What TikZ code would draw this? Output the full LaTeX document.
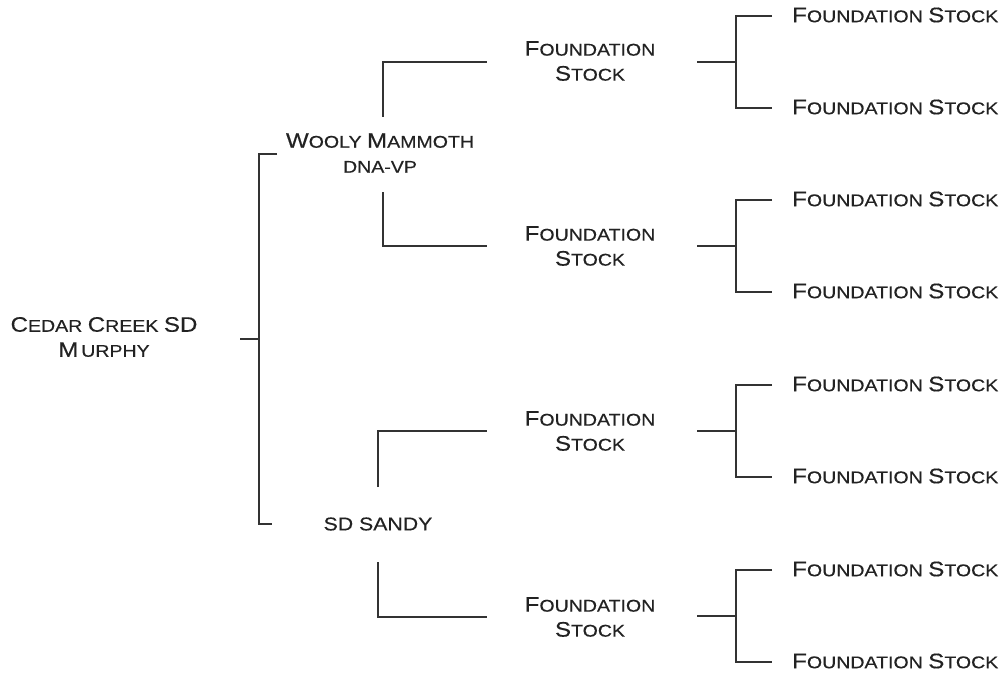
\documentclass[tikz,border=0pt]{standalone}
\usepackage{fontspec}
\setmainfont{Liberation Sans}[FakeStretch=1.15,FakeBold=0.4]
\definecolor{ink}{HTML}{222222}
\definecolor{wire}{HTML}{333333}
\newcommand\Bg[1]{{\fontsize{21}{25}\selectfont #1}}
\tikzset{
  lbl/.style={inner sep=0pt, align=center, text=ink, font=\fontsize{17}{25}\selectfont},
  leaf/.style={lbl, anchor=west},
  wirestyle/.style={draw=wire, line width=1.4pt}
}
\begin{document}
\begin{tikzpicture}[x=1pt,y=-1pt]
\useasboundingbox (0,0) rectangle (1003,674);
% root
\node[lbl] (root) at (104,337) {\Bg{C}EDAR \Bg{C}REEK \Bg{SD}\\\Bg{M}\,URPHY};
\coordinate (rs) at (240,339);
\coordinate (rj) at (259,339);
\coordinate (rt) at (259,154);
\coordinate (rb) at (259,524);
\coordinate (rte) at (277,154);
\coordinate (rbe) at (272,524);
\draw[wirestyle] (rs) -- (rj);
\draw[wirestyle] (rte) -- (rt) -- (rb) -- (rbe);
% level 1
\node[lbl] (wm) at (380,153) {\Bg{W}OOLY \Bg{M}AMMOTH\\DNA-VP};
\node[lbl, font=\fontsize{18.5}{25}\selectfont] (sd) at (378,524) {SD SANDY};
% level 2 nodes
\node[lbl] (f1) at (590,61) {\Bg{F}OUNDATION\\\Bg{S}TOCK};
\node[lbl] (f2) at (590,246) {\Bg{F}OUNDATION\\\Bg{S}TOCK};
\node[lbl] (f3) at (590,431) {\Bg{F}OUNDATION\\\Bg{S}TOCK};
\node[lbl] (f4) at (590,617) {\Bg{F}OUNDATION\\\Bg{S}TOCK};
% level 1 brackets
\coordinate (wa) at (383,117); \coordinate (wac) at (383,62);  \coordinate (wae) at (487,62);
\coordinate (wb) at (383,192); \coordinate (wbc) at (383,246); \coordinate (wbe) at (487,246);
\coordinate (sa) at (378,487); \coordinate (sac) at (378,431); \coordinate (sae) at (487,431);
\coordinate (sb) at (378,562); \coordinate (sbc) at (378,617); \coordinate (sbe) at (487,617);
\draw[wirestyle] (wa) -- (wac) -- (wae);
\draw[wirestyle] (wb) -- (wbc) -- (wbe);
\draw[wirestyle] (sa) -- (sac) -- (sae);
\draw[wirestyle] (sb) -- (sbc) -- (sbe);
% level 2 brackets and leaves
\foreach \n/\y in {1/62,2/246,3/431,4/616}{
  \coordinate (s\n) at (697,\y);
  \coordinate (j\n) at (736,\y);
  \coordinate (ta\n) at (736,\y-46);
  \coordinate (tb\n) at (736,\y+46);
  \coordinate (ea\n) at (772,\y-46);
  \coordinate (eb\n) at (772,\y+46);
  \node[leaf] (la\n) at (792,\y-47) {\Bg{F}OUNDATION \Bg{S}TOCK};
  \node[leaf] (lb\n) at (792,\y+45) {\Bg{F}OUNDATION \Bg{S}TOCK};
  \draw[wirestyle] (s\n) -- (j\n);
  \draw[wirestyle] (ea\n) -- (ta\n) -- (tb\n) -- (eb\n);
}
\end{tikzpicture}
\end{document}
